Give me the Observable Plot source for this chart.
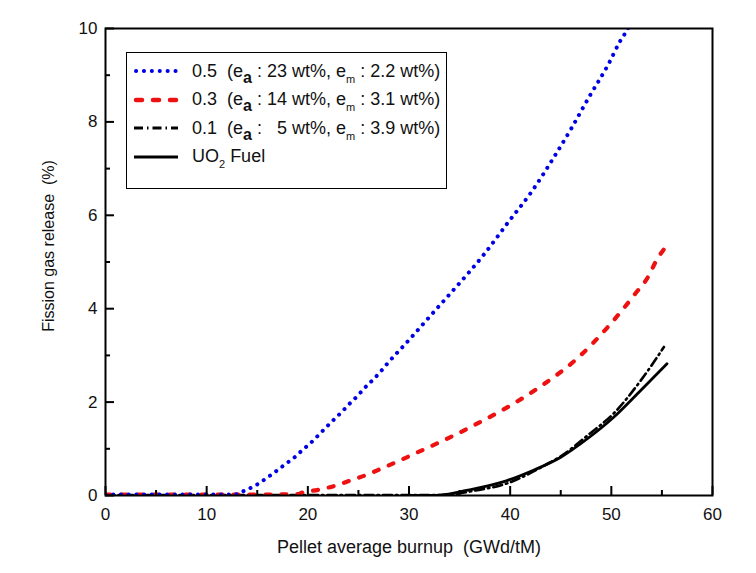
<!DOCTYPE html>
<html>
<head>
<meta charset="utf-8">
<script src="https://cdn.jsdelivr.net/npm/d3@7"></script>
<script src="https://cdn.jsdelivr.net/npm/@observablehq/plot@0.6"></script>
<style>
  body { margin: 0; background: white; }
  #wrap { position: relative; width: 756px; height: 573px; font-family: "Liberation Sans", Arial, sans-serif; }
  #legend { position: absolute; left: 126px; top: 52px; width: 321px; height: 137px; border: 1.5px solid #000; background: #fff; box-sizing: border-box; }
  .row { position: absolute; left: 6px; height: 22px; display: flex; align-items: center; white-space: pre; font-size: 18px; color: #111; }
  .row svg { margin-right: 13px; }
  sub { font-size: 11px; vertical-align: -6px; line-height: 0; }
  sub.b { font-weight: bold; font-size: 16px; vertical-align: -6px; }
</style>
</head>
<body>
<div id="wrap"></div>
<script>
// ---- data ----
const blueX = [0, 2, 4, 6, 8, 10, 12, 13, 13.3, 14, 14.8, 15.5, 16.3, 17.1, 17.9, 18.7, 19.5, 20.3, 21, 21.8, 22.6, 23.4, 24.1, 24.9, 25.6, 26.4, 27.1, 27.8, 30, 32, 34.1, 34.8, 37.4, 39.8, 42.2, 44.2, 46.1, 47.9, 49.7, 50.9, 51.4, 52];
const blueY = [0.02, 0.02, 0.02, 0.02, 0.02, 0.02, 0.02, 0.03, 0.06, 0.13, 0.21, 0.31, 0.43, 0.56, 0.69, 0.82, 0.98, 1.13, 1.28, 1.46, 1.63, 1.8, 1.96, 2.13, 2.3, 2.47, 2.63, 2.81, 3.33, 3.82, 4.33, 4.5, 5.16, 5.85, 6.53, 7.2, 7.88, 8.57, 9.23, 9.74, 9.91, 10.15];

const redX = [0, 4, 8, 12, 16, 19, 19.4, 21, 22.7, 24.2, 25.9, 27.4, 29.1, 30.6, 33.8, 37.1, 40.2, 43.3, 46.6, 49.7, 52.4, 53.6, 54.5, 55.4];
const redY = [0.02, 0.02, 0.02, 0.02, 0.02, 0.03, 0.06, 0.12, 0.21, 0.32, 0.45, 0.59, 0.75, 0.9, 1.22, 1.58, 1.95, 2.38, 2.93, 3.62, 4.33, 4.67, 5.05, 5.33];

const dashDotX = [0, 8, 16, 24, 30, 33, 34, 36.4, 39.7, 43.7, 45, 47.9, 50.2, 52.9, 55.2];
const dashDotY = [0.01, 0.01, 0.01, 0.01, 0.01, 0.01, 0.02, 0.1, 0.26, 0.68, 0.84, 1.33, 1.75, 2.46, 3.18];

const uo2X = [30, 33.1, 35.7, 39.7, 42.3, 45, 47.6, 50.2, 52.9, 55.5];
const uo2Y = [0, 0.01, 0.11, 0.32, 0.54, 0.82, 1.21, 1.67, 2.25, 2.82];

const xMajor = [0, 10, 20, 30, 40, 50, 60];
const xMinor = [5, 15, 25, 35, 45, 55];
const yMajor = [0, 2, 4, 6, 8, 10];
const yMinor = [1, 3, 5, 7, 9];

const xTitle = "Pellet average burnup\u00a0\u00a0(GWd/tM)";
const yTitle = "Fission gas release\u00a0\u00a0(%)";

// ---- build ----
const zip = (xs, ys) => xs.map((x, i) => ({x, y: ys[i]}));
const blue = zip(blueX, blueY), red = zip(redX, redY), dd = zip(dashDotX, dashDotY), uo2 = zip(uo2X, uo2Y);

const W = 756, H = 573, mL = 105, mR = 44, mT = 28, mB = 78;
const pw = W - mL - mR, ph = H - mT - mB;
const BLUE = "#0000e6", RED = "#ee1111";

const chart = Plot.plot({
  width: W, height: H,
  marginLeft: mL, marginRight: mR, marginTop: mT, marginBottom: mB,
  x: {domain: [0, 60], label: null},
  y: {domain: [0, 10], label: null},
  style: {fontFamily: "Liberation Sans, Arial, sans-serif", fontSize: "17px", background: "white", color: "#111"},
  marks: [
    Plot.line(uo2, {x: "x", y: "y", stroke: "#000", strokeWidth: 2.8, curve: "monotone-x", clip: true}),
    Plot.line(dd, {x: "x", y: "y", stroke: "#000", strokeWidth: 2.6, strokeDasharray: "9,4,1.5,4", curve: "monotone-x", clip: true}),
    Plot.line(red, {x: "x", y: "y", stroke: RED, strokeWidth: 4.2, strokeDasharray: "5,11", strokeLinecap: "round", curve: "monotone-x", clip: true}),
    Plot.line(blue, {x: "x", y: "y", stroke: BLUE, strokeWidth: 4, strokeDasharray: "0.1,7.6", strokeLinecap: "round", curve: "monotone-x", clip: true}),
    Plot.tickX(xMajor, {x: d => d, insetTop: ph - 9, stroke: "#000", strokeWidth: 2}),
    Plot.tickX(xMinor, {x: d => d, insetTop: ph - 5, stroke: "#000", strokeWidth: 2}),
    Plot.tickY(yMajor, {y: d => d, insetRight: pw - 9, stroke: "#000", strokeWidth: 2}),
    Plot.tickY(yMinor, {y: d => d, insetRight: pw - 5, stroke: "#000", strokeWidth: 2}),
    Plot.axisX(xMajor, {tickSize: 0, tickPadding: 12, fontSize: 17, label: null}),
    Plot.axisY(yMajor, {tickSize: 0, tickPadding: 8, fontSize: 17, label: null}),
    Plot.frame({stroke: "#000", strokeWidth: 2}),
    Plot.text([xTitle], {frameAnchor: "bottom", textAnchor: "middle", lineAnchor: "middle", dx: 0, dy: 52, fontSize: 18, fill: "#111"}),
    Plot.text([yTitle], {frameAnchor: "left", textAnchor: "middle", lineAnchor: "middle", dx: -57, dy: -16, rotate: -90, fontSize: 16, fill: "#111"})
  ]
});

const wrap = document.getElementById("wrap");
wrap.appendChild(chart);

// ---- legend ----
const sample = (stroke, w, dash, cap) =>
  `<svg width="46" height="12"><line x1="${cap === "round" ? 3 : 1}" y1="6" x2="${cap === "round" ? 43 : 45}" y2="6" stroke="${stroke}" stroke-width="${w}" ${dash ? `stroke-dasharray="${dash}"` : ""} stroke-linecap="${cap || "butt"}"/></svg>`;

const legendRows = [
  {svg: sample(BLUE, 4, "0.1,7.8", "round"), html: `0.5  (e<sub class="b">a</sub> : 23 wt%, e<sub>m</sub> : 2.2 wt%)`},
  {svg: sample(RED, 4.5, "6,11", "round"), html: `0.3  (e<sub class="b">a</sub> : 14 wt%, e<sub>m</sub> : 3.1 wt%)`},
  {svg: sample("#000", 2.8, "9,4,1.5,4"), html: `0.1  (e<sub class="b">a</sub> :   5 wt%, e<sub>m</sub> : 3.9 wt%)`},
  {svg: sample("#000", 3.2, null), html: `UO<sub>2</sub> Fuel`}
];
const legend = document.createElement("div");
legend.id = "legend";
legendRows.forEach((r, i) => {
  const row = document.createElement("div");
  row.className = "row";
  row.style.top = (7 + i * 28.5) + "px";
  row.innerHTML = r.svg + `<span>${r.html}</span>`;
  legend.appendChild(row);
});
wrap.appendChild(legend);
</script>
</body>
</html>
